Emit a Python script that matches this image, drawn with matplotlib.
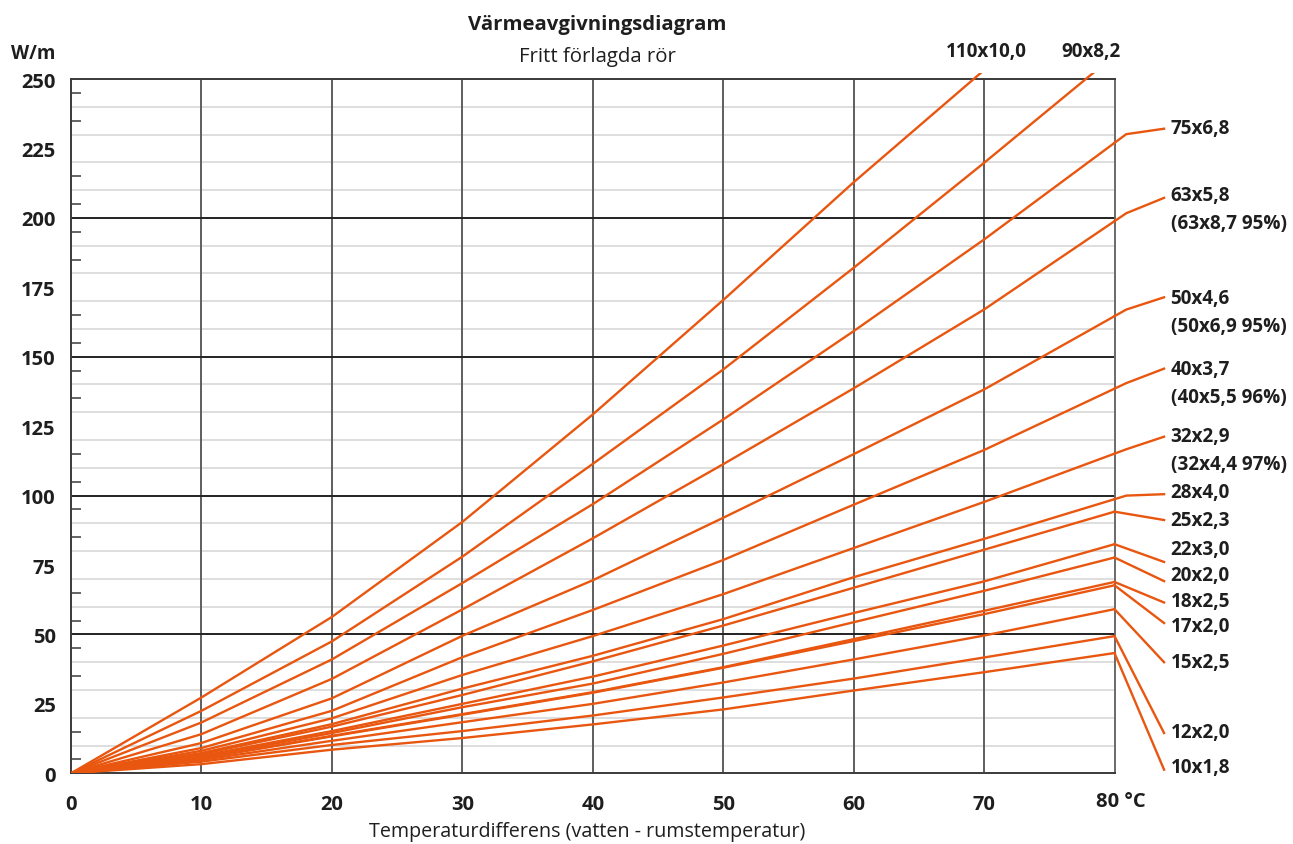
import numpy as np
import matplotlib
matplotlib.use('Agg')
import matplotlib.pyplot as plt
from matplotlib.patches import Rectangle

plt.rcParams['font.family'] = ['Open Sans', 'DejaVu Sans']

# ---------------- data ----------------
dt = [0, 10, 20, 30, 40, 50, 60, 70, 80]  # temperature difference, °C

q_110x10_0 = [0, 27.3, 56.3, 90.5, 129.2, 170.4, 212.8, 253.2, np.nan]
q_90x8_2 = [0, 22.5, 47.5, 78.0, 111.4, 145.4, 182.0, 219.8, 258.5]
q_75x6_8 = [0, 18.3, 41.0, 68.5, 96.9, 127.4, 159.2, 192.2, 227.0]
q_63x5_8 = [0, 14.1, 34.0, 59.0, 84.6, 111.3, 138.6, 167.0, 198.8]
q_50x4_6 = [0, 10.9, 27.0, 49.5, 69.5, 92.0, 114.9, 138.2, 164.6]
q_40x3_7 = [0, 9.1, 22.5, 41.8, 58.8, 76.8, 96.7, 116.4, 138.5]
q_32x2_9 = [0, 8.1, 19.8, 35.4, 49.4, 64.5, 81.1, 97.7, 115.1]
q_28x4_0 = [0, 7.3, 17.7, 30.5, 42.3, 55.5, 70.6, 84.4, 98.7]
q_25x2_3 = [0, 6.9, 16.8, 28.2, 40.3, 53.2, 66.8, 80.5, 94.2]
q_22x3_0 = [0, 6.3, 15.2, 25.0, 34.8, 46.0, 57.7, 69.1, 82.5]
q_20x2_0 = [0, 5.8, 14.5, 23.8, 32.3, 43.0, 54.4, 65.7, 77.7]
q_18x2_5 = [0, 5.4, 13.5, 21.3, 29.2, 38.2, 48.3, 58.5, 68.9]
q_17x2_0 = [0, 5.3, 13.3, 21.1, 29.0, 38.0, 47.6, 57.3, 67.7]
q_15x2_5 = [0, 4.8, 11.7, 18.4, 25.0, 32.7, 41.0, 49.6, 59.1]
q_12x2_0 = [0, 4.2, 10.2, 15.2, 20.8, 27.3, 34.1, 41.7, 49.4]
q_10x1_8 = [0, 3.3, 8.5, 12.7, 17.6, 23.0, 29.8, 36.4, 43.3]

names = ['110x10,0', '90x8,2', '75x6,8', '63x5,8', '50x4,6', '40x3,7',
         '32x2,9', '28x4,0', '25x2,3', '22x3,0', '20x2,0', '18x2,5',
         '17x2,0', '15x2,5', '12x2,0', '10x1,8']
series = [q_110x10_0, q_90x8_2, q_75x6_8, q_63x5_8, q_50x4_6, q_40x3_7,
          q_32x2_9, q_28x4_0, q_25x2_3, q_22x3_0, q_20x2_0, q_18x2_5,
          q_17x2_0, q_15x2_5, q_12x2_0, q_10x1_8]
sub_names = {'63x5,8': '(63x8,7 95%)', '50x4,6': '(50x6,9 95%)',
             '40x3,7': '(40x5,5 96%)', '32x2,9': '(32x4,4 97%)'}

y_ticks = list(range(0, 251, 25))
x_ticks = [0, 10, 20, 30, 40, 50, 60, 70]
x_tick_labels = [str(v) for v in x_ticks]

# label layout (right side), in W/m units
label_y = {'75x6,8': 232.4, '63x5,8': 208.1, '50x4,6': 171.2, '40x3,7': 145.4,
           '32x2,9': 121.4, '28x4,0': 101.4, '25x2,3': 91.1, '22x3,0': 80.7,
           '20x2,0': 71.4, '18x2,5': 62.1, '17x2,0': 53.1, '15x2,5': 40.1,
           '12x2,0': 14.7, '10x1,8': 2.2}
leader_y = {'75x6,8': 232.1, '63x5,8': 207.2, '50x4,6': 171.4, '40x3,7': 145.7,
            '32x2,9': 121.2, '28x4,0': 100.5, '25x2,3': 91.2, '22x3,0': 76.1,
            '20x2,0': 69.2, '18x2,5': 61.5, '17x2,0': 54.1, '15x2,5': 40.0,
            '12x2,0': 14.5, '10x1,8': 1.3}
kinked = ['75x6,8', '63x5,8', '50x4,6', '40x3,7', '32x2,9', '28x4,0']

# ---------------- style ----------------
W, H = 1293, 845
ORANGE = '#e8560f'
TXT = '#1e1e1e'
LW = 1.7
FS_LAB = 13.6
FS_TICK = 14.5

fig = plt.figure(figsize=(W / 100, H / 100), dpi=100)
x0, x1, y0, y1 = 71, 1114.5, 774.3, 80
ax = fig.add_axes([x0 / W, 1 - y0 / H, (x1 - x0) / W, (y0 - y1) / H])
ax.set_xlim(0, 80)
ax.set_ylim(0, 250)

# grid
for yv in range(10, 250, 10):
    if yv % 50 == 0:
        ax.axhline(yv, color='#222222', lw=1.4, zorder=1.5)
    else:
        ax.axhline(yv, color='#dedede', lw=1.4, zorder=1)
for xv in range(10, 80, 10):
    ax.axvline(xv, color='#5e5e5e', lw=1.4, zorder=1.4)

for side in ['left', 'bottom', 'top']:
    ax.spines[side].set_color('#3a3a3a')
    ax.spines[side].set_linewidth(1.4)
ax.spines['right'].set_color('#6a6a6a')
ax.spines['right'].set_linewidth(1.4)

# curves
clip = Rectangle((0, 0), 1, 1.008, transform=ax.transAxes)
for name, vals in zip(names, series):
    ln, = ax.plot(dt, vals, color=ORANGE, lw=LW, zorder=3,
                  solid_joinstyle='miter')
    ln.set_clip_path(clip)

# leader lines and labels
lx_kink, lx_end, tx = 80.9, 83.8, 84.3
for name, vals in zip(names, series):
    if name not in label_y:
        continue
    v80 = vals[-1]
    if name in kinked:
        slope = (vals[-1] - vals[-2]) / (dt[-1] - dt[-2])
        xs = [80, lx_kink, lx_end]
        ys = [v80, v80 + slope * (lx_kink - 80), leader_y[name]]
    else:
        xs = [80, lx_end]
        ys = [v80, leader_y[name]]
    ax.plot(xs, ys, color=ORANGE, lw=LW, clip_on=False, zorder=3)
    ax.text(tx, label_y[name], name, ha='left', va='center', fontsize=FS_LAB,
            fontweight='bold', color=TXT, clip_on=False)
    if name in sub_names:
        ax.text(tx, label_y[name] - 10.0, sub_names[name], ha='left',
                va='center', fontsize=FS_LAB, fontweight='bold', color=TXT,
                clip_on=False)

# top labels for curves leaving the plot
ax.text(70.2, 260, names[0], ha='center', va='center', fontsize=FS_LAB,
        fontweight='bold', color=TXT, clip_on=False)
ax.text(78.2, 260, names[1], ha='center', va='center', fontsize=FS_LAB,
        fontweight='bold', color=TXT, clip_on=False)

# ticks
ax.set_xticks(x_ticks)
ax.set_xticklabels(x_tick_labels)
ax.set_yticks(y_ticks)
ax.set_yticklabels([str(v) for v in y_ticks])
ax.set_yticks(np.arange(5, 250, 10), minor=True)
ax.tick_params(axis='x', which='major', length=0, pad=15, labelsize=FS_TICK,
               labelcolor=TXT)
ax.tick_params(axis='y', which='major', length=0, pad=11, labelsize=FS_TICK,
               labelcolor=TXT)
ax.tick_params(axis='y', which='minor', direction='in', length=7, width=1.1,
               color='#3a3a3a')
for lab in ax.get_xticklabels() + ax.get_yticklabels():
    lab.set_fontweight('bold')
ax.text(78.6, -10.0, '80 °C', ha='left', va='center', fontsize=FS_TICK,
        fontweight='bold', color=TXT, clip_on=False)

# titles and axis captions
fig.text(597 / W, 1 - 25 / H, 'Värmeavgivningsdiagram', ha='center',
         va='center', fontsize=14.7, fontweight='bold', color=TXT)
fig.text(597 / W, 1 - 57 / H, 'Fritt förlagda rör', ha='center',
         va='center', fontsize=14.7, color=TXT)
fig.text(33 / W, 1 - 54 / H, 'W/m', ha='center', va='center', fontsize=13.5,
         fontweight='bold', color=TXT)
fig.text(587 / W, 1 - 832 / H, 'Temperaturdifferens (vatten - rumstemperatur)',
         ha='center', va='center', fontsize=14.2, color=TXT)

fig.savefig('out.png', dpi=100)
